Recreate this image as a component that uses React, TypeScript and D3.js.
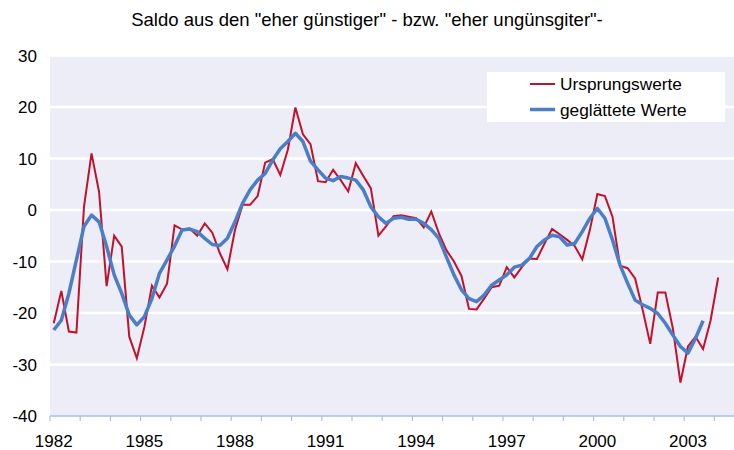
import React from "react";
import * as d3 from "d3";

const title = 'Saldo aus den "eher günstiger" - bzw. "eher ungünsgiter"-';
const seriesNames = ["Ursprungswerte", "geglättete Werte"];
const startYear = 1982;
const yearLabels = ["1982", "1985", "1988", "1991", "1994", "1997", "2000", "2003"];
const yTicks = [-40, -30, -20, -10, 0, 10, 20, 30];

// quarterly values from 1982 Q1
const rawValues = [
  -22.0, -15.7, -23.6, -23.8, 0.6, 11.0, 3.5, -14.8, -5.0, -7.1,
  -24.6, -28.8, -22.7, -14.7, -17.0, -14.3, -3.0, -3.8, -3.6, -5.0,
  -2.6, -4.4, -8.4, -11.5, -3.9, 1.0, 1.0, 2.7, 9.2, 9.9,
  6.8, 11.7, 19.9, 14.7, 12.8, 5.6, 5.4, 7.8, 5.8, 3.6,
  9.1, 6.6, 4.2, -5.0, -3.2, -1.2, -1.0, -1.3, -1.6, -3.4,
  -0.3, -4.5, -7.8, -10.0, -12.8, -19.2, -19.3, -17.2, -15.0, -14.7,
  -11.1, -13.1, -11.1, -9.4, -9.5, -6.5, -3.7, -4.7, -5.8, -7.0,
  -9.6, -3.9, 3.1, 2.7, -1.3, -10.8, -11.3, -13.3, -19.4, -26.0,
  -16.0, -16.0, -23.0, -33.5, -26.5, -24.6, -27.0, -21.4, -13.1,
];

const smoothValues = [
  -23.3, -21.4, -16.2, -9.7, -3.2, -1.0, -2.3, -7.1, -12.6, -16.2,
  -20.4, -22.3, -20.7, -17.2, -12.3, -9.7, -7.0, -3.9, -3.7, -4.2,
  -5.5, -6.7, -6.9, -5.5, -2.3, 1.3, 3.9, 5.8, 7.1, 9.7,
  11.9, 13.3, 14.9, 13.3, 9.5, 7.8, 6.2, 5.7, 6.5, 6.2,
  5.8, 3.9, 0.6, -1.3, -2.6, -1.6, -1.4, -1.8, -1.8, -2.6,
  -3.8, -5.5, -9.1, -12.6, -15.5, -17.2, -17.8, -16.5, -14.6, -13.6,
  -12.6, -11.1, -10.7, -9.4, -7.1, -5.8, -4.9, -5.2, -6.8, -6.5,
  -4.2, -1.6, 0.3, -1.6, -5.8, -10.7, -14.2, -17.5, -18.4, -19.1,
  -20.1, -22.0, -24.3, -26.5, -27.8, -24.9, -21.5,
];

const W = 734;
const H = 450;
const nCats = 91;
const left = 50;
const catW = 7.55;
const top = 55.5;
const bottom = 416;
const right = W;

const RED = "#C0122B";
const BLUE = "#4A7EC6";
const BG = "#EDEDF7";
const FONT = "'Liberation Sans', Arial, sans-serif";

export default function App() {
  const x = d3.scaleLinear().domain([0, nCats]).range([left, left + nCats * catW]);
  const y = d3.scaleLinear().domain([-40, 30]).range([bottom, top]);
  const cx = (i: number) => x(i + 0.5);

  const line = d3
    .line<number>()
    .x((_, i) => cx(i))
    .y((d) => y(d));

  const yearTicks = d3.range(0, nCats, 4);

  return (
    <svg
      width={W}
      height={H}
      style={{ position: "absolute", left: 0, top: 0, background: "#fff" }}
      fontFamily={FONT}
    >
      <defs>
        <clipPath id="plot">
          <rect x={left} y={top} width={right - left} height={bottom - top} />
        </clipPath>
      </defs>
      <text x={367} y={26} textAnchor="middle" fontSize={18.5} fill="#000">
        {title}
      </text>
      <rect x={left} y={top} width={right - left} height={bottom - top} fill={BG} />
      {yTicks
        .filter((t) => t > -40)
        .map((t) => (
          <line key={t} x1={left} x2={right} y1={y(t)} y2={y(t)} stroke="#fff" strokeWidth={2.5} />
        ))}
      {yTicks.map((t) => (
        <text key={t} x={37} y={y(t) + 6} textAnchor="end" fontSize={17} fill="#000">
          {t}
        </text>
      ))}
      <line x1={left} x2={right} y1={bottom} y2={bottom} stroke="#A9C0E2" strokeWidth={1.5} />
      {yearTicks.map((i) => (
        <line key={i} x1={x(i)} x2={x(i)} y1={bottom} y2={bottom + 5} stroke="#A9C0E2" strokeWidth={1.2} />
      ))}
      {yearLabels.map((lab) => {
        const idx = (parseInt(lab) - startYear) * 4;
        return (
          <text key={lab} x={cx(idx)} y={447} textAnchor="middle" fontSize={17} fill="#000">
            {lab}
          </text>
        );
      })}
      <g clipPath="url(#plot)">
        <path d={line(rawValues) || ""} fill="none" stroke={RED} strokeWidth={2} strokeLinejoin="miter" />
        <path d={line(smoothValues) || ""} fill="none" stroke={BLUE} strokeWidth={3.5} strokeLinejoin="round" />
      </g>
      <rect x={487} y={72} width={238} height={50} fill="#fff" />
      <line x1={530} x2={555} y1={84} y2={84} stroke={RED} strokeWidth={2} />
      <text x={560} y={90} fontSize={17.3} fill="#000">
        {seriesNames[0]}
      </text>
      <line x1={530} x2={555} y1={109.5} y2={109.5} stroke={BLUE} strokeWidth={3.5} />
      <text x={560} y={115.5} fontSize={17.3} fill="#000">
        {seriesNames[1]}
      </text>
    </svg>
  );
}
